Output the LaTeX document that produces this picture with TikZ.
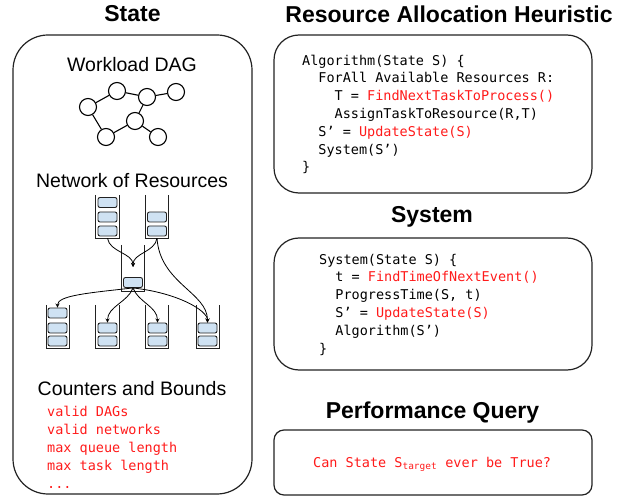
\documentclass[tikz,border=0pt]{standalone}
\usepackage{fontspec}
\setmainfont{Liberation Sans}
\setmonofont{DejaVu Sans Mono}
\usepackage{xcolor}
\usepackage{tikz}
\usetikzlibrary{arrows,calc}

\definecolor{hl}{HTML}{FF1A1A}
\definecolor{taskblue}{HTML}{CFE2F3}
\definecolor{edge}{HTML}{222222}
\newcommand{\ind}{\phantom{xx}}
\newcommand{\hlt}[1]{{\color{hl}#1}}

\begin{document}
\begin{tikzpicture}[
    x=1pt, y=-1pt,
    panel/.style={rectangle, draw=edge, line width=1.2pt, inner sep=0pt},
    heading/.style={font=\fontsize{23}{27}\selectfont\bfseries, anchor=base, inner sep=0pt},
    subhead/.style={font=\fontsize{19.5}{23}\selectfont, anchor=base, inner sep=0pt},
    codetxt/.style={font=\ttfamily\fontsize{13.5}{17.8}\selectfont, align=left,
                    anchor=base west, inner sep=0pt},
    dag/.style={circle, draw=black, line width=1.1pt, minimum size=17pt, inner sep=0pt},
    queue/.style={rectangle, minimum width=23pt, inner sep=0pt},
    task/.style={rectangle, draw=edge, rounded corners=2pt, fill=taskblue,
                 line width=0.9pt, minimum width=19pt, minimum height=10pt, inner sep=0pt},
    flow/.style={line width=0.8pt, ->, >=stealth},
  ]
  \useasboundingbox (0,0) rectangle (635,497);

  % Panels
  \node[panel, rounded corners=35pt, minimum width=239pt, minimum height=459pt] (stbox) at (132.5,264.5) {};
  \node[panel, rounded corners=25pt, minimum width=318pt, minimum height=158pt] (rabox) at (433,114) {};
  \node[panel, rounded corners=25pt, minimum width=318pt, minimum height=132pt] (sybox) at (433,304) {};
  \node[panel, rounded corners=10pt, minimum width=318pt, minimum height=65pt] (pqbox) at (433,462.5) {};

  % Headings
  \node[heading] (stt) at (132.5,22) {State};
  \node[heading] (rat) at (449,23) {Resource Allocation Heuristic};
  \node[heading] (syt) at (432,222.5) {System};
  \node[heading] (pqt) at (432.5,418) {Performance Query};

  % State contents
  \node[subhead] (wdag) at (132,72) {Workload DAG};
  \node[subhead] (net) at (132,188) {Network of Resources};
  \node[subhead] (cnt) at (132,395) {Counters and Bounds};

  % DAG
  \node[dag] (d1) at (88,107) {};
  \node[dag] (d2) at (117,91) {};
  \node[dag] (d3) at (147,97) {};
  \node[dag] (d4) at (176,92) {};
  \node[dag] (d5) at (135,121) {};
  \node[dag] (d6) at (106,137) {};
  \node[dag] (d7) at (158,137) {};
  \foreach \a/\b in {d1/d2,d2/d3,d3/d4,d3/d5,d1/d6,d6/d5,d5/d7}
    \draw[line width=1.1pt] (\a) -- (\b);

  % Queues
  \node[queue, minimum height=43pt] (q1) at (107.5,216.5) {};
  \node[queue, minimum height=43pt] (q2) at (157,216.5) {};
  \node[queue, minimum height=46pt] (q3) at (133,268) {};
  \node[queue, minimum height=43pt] (q4) at (58,326.5) {};
  \node[queue, minimum height=43pt] (q5) at (107.5,326.5) {};
  \node[queue, minimum height=43pt] (q6) at (157,326.5) {};
  \node[queue, minimum height=43pt] (q7) at (208,326.5) {};
  \foreach \q in {q1,q2,q3,q4,q5,q6,q7}
    \draw[line width=1.1pt, edge] (\q.north west) |- (\q.south east) -- (\q.north east);

  % Tasks
  \node[task] (r11) at (107.5,202.5) {};
  \node[task] (r12) at (107.5,217) {};
  \node[task] (r13) at (107.5,231) {};
  \node[task] (r21) at (157,217) {};
  \node[task] (r22) at (157,231) {};
  \node[task] (r31) at (133,282.5) {};
  \node[task] (r41) at (57.5,313) {};
  \node[task] (r42) at (57.5,328) {};
  \node[task] (r43) at (57.5,341) {};
  \node[task] (r51) at (107.5,328) {};
  \node[task] (r52) at (107.5,341) {};
  \node[task] (r61) at (157.5,328) {};
  \node[task] (r62) at (157.5,341) {};
  \node[task] (r71) at (207.5,328) {};
  \node[task] (r72) at (207.5,341) {};

  % Flows
  \coordinate (hub) at (133,267);
  \draw[flow] (q1.south) .. controls +(2,14) and +(0,-14) .. (hub);
  \draw[flow] (q2.south) .. controls +(-2,14) and +(0,-14) .. (hub);
  \draw[flow] (q2.south) .. controls +(3,45) and +(0,-30) .. (r71.north);
  \draw[flow] (r31.south) .. controls +(-45,5) and +(0,-12) .. (r41.north);
  \draw[flow] (r31.south) .. controls +(-5,14) and +(0,-16) .. (r51.north);
  \draw[flow] (r31.south) .. controls +(5,14) and +(0,-16) .. (r61.north);
  \draw[flow] (r31.south) .. controls +(45,5) and +(0,-12) .. (r71.north);

  % Counters and bounds (base = last line)
  \node[codetxt, text=hl] (bnd) at (47,488) {valid DAGs\\valid networks\\max queue length\\max task length\\...};

  % Code (base = last line)
  \node[codetxt] (racode) at (302,172) {Algorithm(State S) \{\\
    \ind ForAll Available Resources R:\\
    \ind\ind T = \hlt{FindNextTaskToProcess()}\\
    \ind\ind AssignTaskToResource(R,T)\\
    \ind S’ = \hlt{UpdateState(S)}\\
    \ind System(S’)\\
    \}};
  \node[codetxt] (sycode) at (319,353) {System(State S) \{\\
    \ind t = \hlt{FindTimeOfNextEvent()}\\
    \ind ProgressTime(S, t)\\
    \ind S’ = \hlt{UpdateState(S)}\\
    \ind Algorithm(S’)\\
    \}};
  \node[codetxt, text=hl] (query) at (313,467) {Can State S\textsubscript{target} ever be True?};
\end{tikzpicture}
\end{document}
